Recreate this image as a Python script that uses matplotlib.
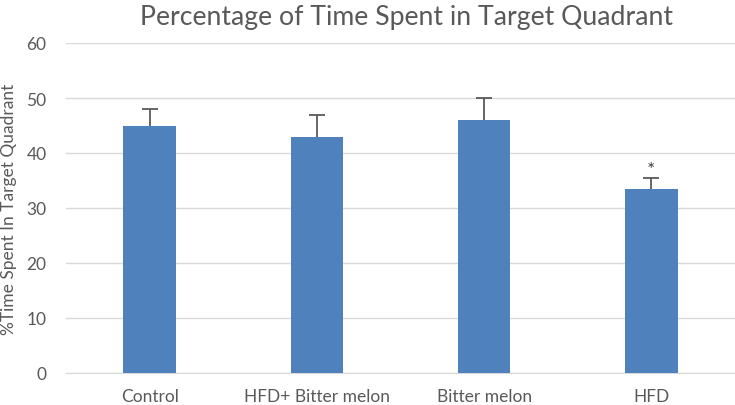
import numpy as np
import matplotlib.pyplot as plt

groups = ['Control', 'HFD+ Bitter melon', 'Bitter melon', 'HFD']
means = [45, 43, 46, 33.5]
errors = [3, 4, 4, 2]
marks = ['', '', '', '*']

plt.rcParams['font.family'] = ['Lato', 'DejaVu Sans']

fig = plt.figure(figsize=(7.35, 4.06), dpi=100)
ax = fig.add_axes([66/735, 32/406, 1 - 66/735, 330/406])

x = np.arange(len(groups))
ax.bar(x, means, width=0.313, color='#4f81bd', zorder=3)
eb = ax.errorbar(x, means, yerr=[np.zeros(len(errors)), errors], fmt='none',
                 ecolor='#595959', elinewidth=1.3, capsize=6, capthick=1.3, zorder=4)
# only the upper cap, like the original
eb[1][0].set_visible(False)
for xi, m, e, s in zip(x, means, errors, marks):
    if s:
        ax.text(xi, m + e + 1.5, s, ha='center', va='center', fontsize=14, color='#404040')

ax.set_xlim(-0.5, len(groups) - 0.5)
ax.set_ylim(0, 60)
ax.set_yticks(range(0, 61, 10))
ax.set_xticks(x)
ax.set_xticklabels(groups)
ax.grid(axis='y', color='#d9d9d9', linewidth=1, zorder=0)
for side in ['left', 'right', 'top']:
    ax.spines[side].set_visible(False)
ax.spines['bottom'].set_color('#d9d9d9')
ax.tick_params(length=0, labelsize=12.5, labelcolor='#595959')
ax.tick_params(axis='x', pad=11)
ax.tick_params(axis='y', pad=14)
ax.set_ylabel('%Time Spent In Target Quadrant', fontsize=12.5, color='#595959', labelpad=7)

fig.text(406/735, 1 - 18/406, 'Percentage of Time Spent in Target Quadrant',
         ha='center', va='center', fontsize=19.2, color='#595959')

fig.savefig('out.png', dpi=100)
